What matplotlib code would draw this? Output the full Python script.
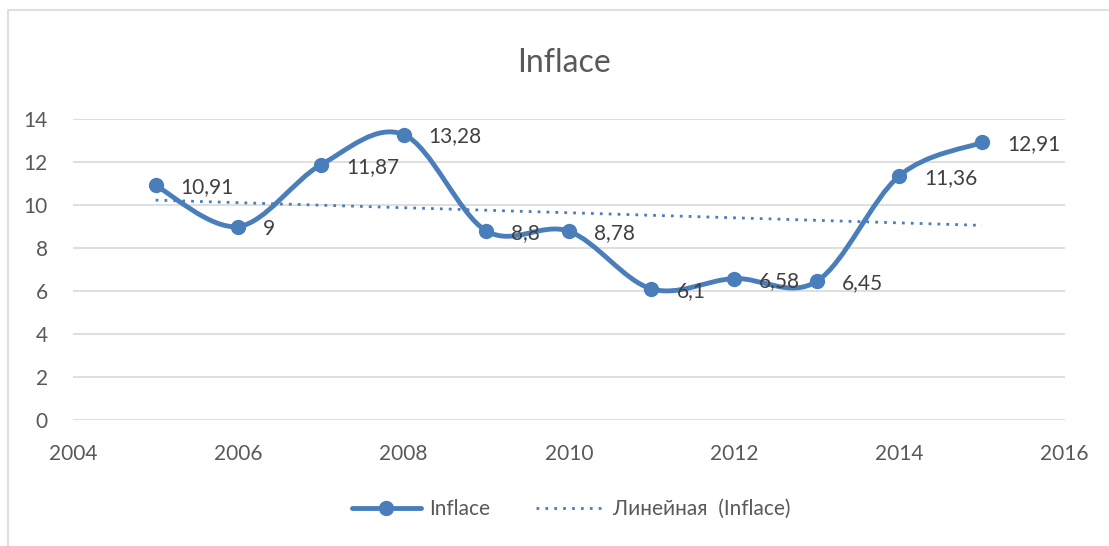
import numpy as np
import matplotlib.pyplot as plt
from matplotlib.path import Path
from matplotlib.patches import PathPatch, Rectangle
from matplotlib.lines import Line2D

plt.rcParams['font.family'] = ['Lato', 'DejaVu Sans']

years = [2005, 2006, 2007, 2008, 2009, 2010, 2011, 2012, 2013, 2014, 2015]
inflace = [10.91, 9, 11.87, 13.28, 8.8, 8.78, 6.1, 6.58, 6.45, 11.36, 12.91]
labels = ["10,91", "9", "11,87", "13,28", "8,8", "8,78", "6,1", "6,58", "6,45", "11,36", "12,91"]

blue = "#4A7EBB"
grey = "#595959"

fig = plt.figure(figsize=(11.09, 5.46), dpi=100)
ax = fig.add_axes([0.0658, 0.2308, 0.8942, 0.5512])

# chart border like excel
fig.patches.append(Rectangle((8 / 1109, -0.1), 1.2, 1.1 - 10 / 546, transform=fig.transFigure,
                             fill=False, edgecolor="#D9D9D9", linewidth=1.2))

x = np.array(years, dtype=float)
y = np.array(inflace, dtype=float)

# smoothed line (bezier with catmull-rom tangents, like excel "smooth line")
verts = [(x[0], y[0])]
codes = [Path.MOVETO]
n = len(x)
for i in range(n - 1):
    p0 = np.array([x[max(i - 1, 0)], y[max(i - 1, 0)]])
    p1 = np.array([x[i], y[i]])
    p2 = np.array([x[i + 1], y[i + 1]])
    p3 = np.array([x[min(i + 2, n - 1)], y[min(i + 2, n - 1)]])
    c1 = p1 + (p2 - p0) / 6
    c2 = p2 - (p3 - p1) / 6
    verts += [tuple(c1), tuple(c2), tuple(p2)]
    codes += [Path.CURVE4] * 3
ax.add_patch(PathPatch(Path(verts, codes), facecolor="none", edgecolor=blue,
                       linewidth=3.5, capstyle="round", joinstyle="round", zorder=3))
ax.plot(x, y, "o", color=blue, markersize=10, zorder=4)

# linear trend
k, b = np.polyfit(x, y, 1)
ax.plot(x, k * x + b, linestyle=(0, (1, 2.2)), color=blue, linewidth=2, zorder=2)

for xi, yi, lab in zip(x, y, labels):
    ax.annotate(lab, (xi, yi), xytext=(18, -1.5), textcoords="offset points",
                va="center", ha="left", fontsize=15, color="#404040", zorder=5)

ax.set_xlim(2004, 2016)
ax.set_ylim(0, 14)
ax.set_xticks(range(2004, 2017, 2))
ax.set_yticks(range(0, 15, 2))
ax.grid(axis="y", color="#D9D9D9", linewidth=1.2)
ax.set_axisbelow(True)
for s in ax.spines.values():
    s.set_visible(False)
ax.tick_params(length=0, labelsize=15, labelcolor=grey)
ax.tick_params(axis="x", pad=17)
ax.tick_params(axis="y", pad=18)

fig.text(0.509, 0.885, "Inflace", ha="center", va="center", fontsize=23, color=grey)

handles = [Line2D([], [], color=blue, linewidth=3.5, marker="o", markersize=10, solid_capstyle="round"),
           Line2D([], [], color=blue, linewidth=2, linestyle=(0, (1, 2.2)))]
fig.legend(handles, ["Inflace", "Линейная  (Inflace)"], loc="center", bbox_to_anchor=(0.515, 0.068),
           ncol=2, frameon=False, fontsize=15, labelcolor=grey, handlelength=3.3,
           columnspacing=2.2, handletextpad=0.4)

fig.savefig("out.png", dpi=100)
